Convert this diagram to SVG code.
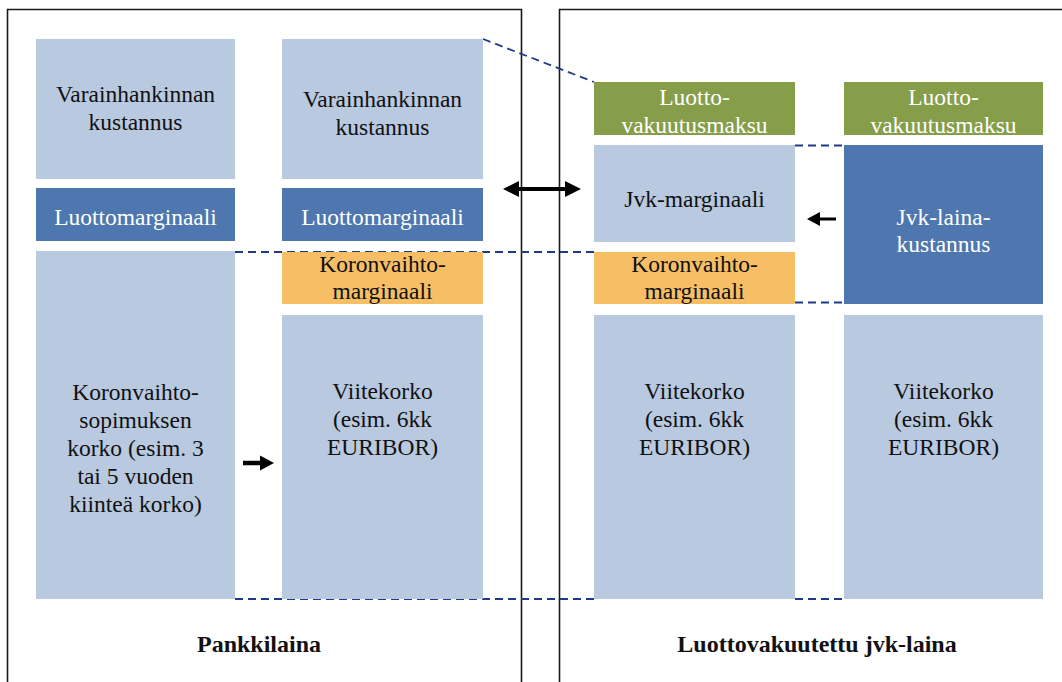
<svg xmlns="http://www.w3.org/2000/svg" width="1062" height="682" viewBox="0 0 1062 682">
<style>
  .lb{fill:#B8C9E0}
  .db{fill:#4E77AF}
  .gr{fill:#869E4A}
  .or{fill:#F6BF66}
  .frame{fill:none;stroke:#1a1a1a;stroke-width:1.6}
  .dash{fill:none;stroke:#1F3A8A;stroke-width:1.8;stroke-dasharray:8,5}
  text{font-family:"Liberation Serif","Times New Roman",serif;font-size:23.5px;text-anchor:middle;fill:#111}
  .w{fill:#fff}
  .bold{font-weight:bold;font-size:24px}
</style>
<rect width="1062" height="682" fill="#fff"/>
<g id="frames">
  <path class="frame" d="M7.5,690 V9.5 H521.5 V690"/>
  <path class="frame" d="M559.5,690 V9.5 H1070"/>
</g>
<g id="connectors">
  <line class="dash" x1="483" y1="39" x2="594" y2="82"/>
  <line class="dash" x1="235" y1="252" x2="594" y2="252"/>
  <line class="dash" x1="795" y1="145.5" x2="844" y2="145.5"/>
  <line class="dash" x1="795" y1="302.5" x2="844" y2="302.5"/>
  <line class="dash" x1="235" y1="599" x2="594" y2="599"/>
  <line class="dash" x1="795" y1="599" x2="844" y2="599"/>
</g>
<g id="n1"><rect class="lb" x="36" y="39" width="199" height="140"/><text x="135.5" y="102">Varainhankinnan</text><text x="135.5" y="130">kustannus</text></g>
<g id="n2"><rect class="db" x="36" y="188" width="199" height="53"/><text class="w" x="135.5" y="225">Luottomarginaali</text></g>
<g id="n3"><rect class="lb" x="36" y="251" width="199" height="348"/><text x="135.5" y="400">Koronvaihto-</text><text x="135.5" y="428">sopimuksen</text><text x="135.5" y="456">korko (esim. 3</text><text x="135.5" y="484">tai 5 vuoden</text><text x="135.5" y="512">kiinteä korko)</text></g>
<g id="n4"><rect class="lb" x="282" y="39" width="201" height="140"/><text x="382.5" y="107">Varainhankinnan</text><text x="382.5" y="135">kustannus</text></g>
<g id="n5"><rect class="db" x="282" y="188" width="201" height="53"/><text class="w" x="382.5" y="225">Luottomarginaali</text></g>
<g id="n6"><rect class="or" x="282" y="252" width="201" height="52"/><text x="382.5" y="272">Koronvaihto-</text><text x="382.5" y="299">marginaali</text></g>
<g id="n7"><rect class="lb" x="282" y="315" width="201" height="284"/><text x="382.5" y="399">Viitekorko</text><text x="382.5" y="427">(esim. 6kk</text><text x="382.5" y="455">EURIBOR)</text></g>
<g id="n8"><rect class="gr" x="594" y="82" width="201" height="53"/><text class="w" x="694.5" y="105">Luotto-</text><text class="w" x="694.5" y="133">vakuutusmaksu</text></g>
<g id="n9"><rect class="lb" x="594" y="145" width="201" height="97"/><text x="694.5" y="207">Jvk-marginaali</text></g>
<g id="n10"><rect class="or" x="594" y="252" width="201" height="52"/><text x="694.5" y="272">Koronvaihto-</text><text x="694.5" y="299">marginaali</text></g>
<g id="n11"><rect class="lb" x="594" y="315" width="201" height="284"/><text x="694.5" y="399">Viitekorko</text><text x="694.5" y="427">(esim. 6kk</text><text x="694.5" y="455">EURIBOR)</text></g>
<g id="n12"><rect class="gr" x="844" y="82" width="199" height="53"/><text class="w" x="943.5" y="105">Luotto-</text><text class="w" x="943.5" y="133">vakuutusmaksu</text></g>
<g id="n13"><rect class="db" x="844" y="145" width="199" height="159"/><text class="w" x="943.5" y="225">Jvk-laina-</text><text class="w" x="943.5" y="252">kustannus</text></g>
<g id="n14"><rect class="lb" x="844" y="315" width="199" height="284"/><text x="943.5" y="399">Viitekorko</text><text x="943.5" y="427">(esim. 6kk</text><text x="943.5" y="455">EURIBOR)</text></g>
<g id="arrows">
  <line x1="515" y1="189" x2="569" y2="189" stroke="#000" stroke-width="4"/>
  <polygon points="503,189 519,181 519,197" fill="#000"/>
  <polygon points="581,189 565,181 565,197" fill="#000"/>
  <line x1="243" y1="463" x2="262" y2="463" stroke="#000" stroke-width="4.5"/>
  <polygon points="274,463 260,455.5 260,470.5" fill="#000"/>
  <line x1="816" y1="219" x2="836" y2="219" stroke="#000" stroke-width="3"/>
  <polygon points="807,219 820,212 820,226" fill="#000"/>
</g>
<g id="labels">
  <text class="bold" x="259" y="652">Pankkilaina</text>
  <text class="bold" x="817" y="652">Luottovakuutettu jvk-laina</text>
</g>
</svg>
